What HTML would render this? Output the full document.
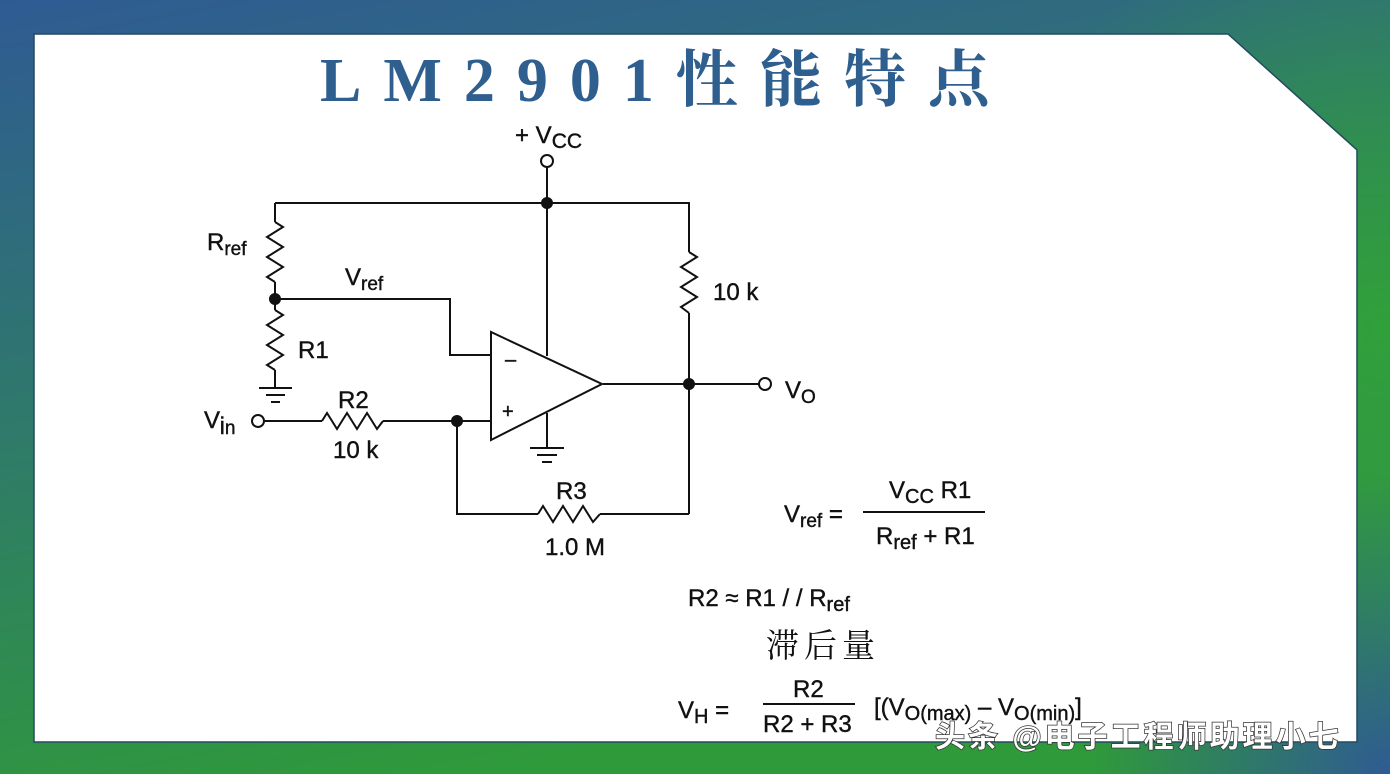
<!DOCTYPE html>
<html><head><meta charset="utf-8"><style>
html,body{margin:0;padding:0;}
body{width:1390px;height:774px;overflow:hidden;position:relative;background:#2f5f92;}
svg{position:absolute;left:0;top:0;}
</style></head><body>
<svg width="1390" height="774" viewBox="0 0 1390 774" xmlns="http://www.w3.org/2000/svg">
<defs>
<linearGradient id="g1" x1="0" y1="0" x2="0.35" y2="1">
<stop offset="0" stop-color="#2f5b93"/><stop offset="0.5" stop-color="#2f7a6a"/><stop offset="1" stop-color="#2f9a3a"/>
</linearGradient>
<radialGradient id="g2" cx="1380" cy="330" r="420" gradientUnits="userSpaceOnUse">
<stop offset="0" stop-color="#30a03a" stop-opacity="1"/><stop offset="1" stop-color="#30a03a" stop-opacity="0"/>
</radialGradient>
<radialGradient id="g3" cx="1390" cy="774" r="300" gradientUnits="userSpaceOnUse">
<stop offset="0" stop-color="#2f5b93"/><stop offset="1" stop-color="#2f5b93" stop-opacity="0"/>
</radialGradient>
</defs>
<rect width="1390" height="774" fill="url(#g1)"/>
<rect width="1390" height="774" fill="url(#g2)"/>
<rect width="1390" height="774" fill="url(#g3)"/>
<polygon points="34,34 1228,34 1357,150 1357,742 34,742" fill="#fff" stroke="#244a60" stroke-width="1.5"/>
<text x="320" y="101" font-family="Liberation Serif,'Noto Serif CJK SC',serif" font-size="62" font-weight="bold" fill="#2f5f8f" letter-spacing="22">LM2901性能特点</text>
<g stroke="#111" stroke-width="2" fill="none">
<circle cx="547" cy="161" r="6"/>
<line x1="547" y1="167" x2="547" y2="356"/>
<polyline points="275,203 689,203 689,252"/>
<polyline points="689,252 697,257 681,267 697,277 681,287 697,297 681,307 689,313"/>
<line x1="689" y1="313" x2="689" y2="514"/>
<line x1="603" y1="384" x2="759" y2="384"/>
<circle cx="765" cy="384" r="6"/>
<line x1="275" y1="203" x2="275" y2="222"/>
<polyline points="275,222 283,227 267,237 283,247 267,257 283,267 267,277 275,282"/>
<line x1="275" y1="282" x2="275" y2="310"/>
<polyline points="275,310 283,315 267,325 283,335 267,345 283,355 267,365 275,370"/>
<line x1="275" y1="370" x2="275" y2="387"/>
<line x1="259" y1="388" x2="292" y2="388"/><line x1="266" y1="395" x2="285" y2="395"/><line x1="271" y1="402" x2="280" y2="402"/>
<polyline points="275,299 450,299 450,355 491,355"/>
<polygon points="491,332 491,440 602,384"/>
<circle cx="258" cy="421" r="6"/>
<line x1="264" y1="421" x2="322" y2="421"/>
<polyline points="322,421 327,413 337,429 347,413 357,429 367,413 377,429 383,421"/>
<line x1="383" y1="421" x2="491" y2="421"/>
<polyline points="457,421 457,514 538,514"/>
<polyline points="538,514 543,506 553,522 563,506 573,522 583,506 593,522 600,514"/>
<line x1="600" y1="514" x2="689" y2="514"/>
<line x1="547" y1="413" x2="547" y2="447"/>
<line x1="530" y1="448" x2="564" y2="448"/><line x1="537" y1="455" x2="557" y2="455"/><line x1="542" y1="462" x2="552" y2="462"/>
<line x1="863" y1="512" x2="985" y2="512"/>
<line x1="763" y1="704" x2="855" y2="704"/>
</g>
<g fill="#111">
<circle cx="547" cy="203" r="6"/><circle cx="275" cy="299" r="6"/><circle cx="689" cy="384" r="6"/><circle cx="457" cy="421" r="6"/>
</g>
<g font-family="Liberation Sans,Arial,sans-serif" fill="#111" font-size="24" stroke="#111" stroke-width="0.4">
<text x="515" y="143">+ V<tspan font-size="21" dy="5">CC</tspan></text>
<text x="207" y="250">R<tspan font-size="19" dy="5">ref</tspan></text>
<text x="345" y="285">V<tspan font-size="19" dy="5">ref</tspan></text>
<text x="298" y="358">R1</text>
<text x="713" y="300">10 k</text>
<text x="505" y="366" font-size="20">–</text>
<text x="502" y="418" font-size="20">+</text>
<text x="785" y="398">V<tspan font-size="19" dy="5">O</tspan></text>
<text x="204" y="428">V<tspan dy="6">i</tspan><tspan font-size="19">n</tspan></text>
<text x="338" y="408">R2</text>
<text x="333" y="458">10 k</text>
<text x="556" y="499">R3</text>
<text x="545" y="555">1.0 M</text>
<text x="784" y="522">V<tspan font-size="19" dy="5">ref</tspan><tspan dy="-5"> =</tspan></text>
<text x="889" y="498">V<tspan font-size="20" dy="5">CC</tspan><tspan dy="-5"> R1</tspan></text>
<text x="876" y="544">R<tspan font-size="20" dy="5">ref</tspan><tspan dy="-5"> + R1</tspan></text>
<text x="688" y="606">R2 ≈ R1 / / R<tspan font-size="20" dy="5">ref</tspan></text>
<text x="678" y="718">V<tspan font-size="20" dy="5">H</tspan><tspan dy="-5"> =</tspan></text>
<text x="793" y="697">R2</text>
<text x="763" y="732">R2 + R3</text>
<text x="874" y="715">[(V<tspan font-size="20" dy="5">O(max)</tspan><tspan dy="-5"> – V</tspan><tspan font-size="20" dy="5">O(min)</tspan><tspan dy="-5">]</tspan></text>
</g>
<text x="766" y="657" font-family="Liberation Serif,'Noto Serif CJK SC',serif" font-size="33" fill="#111" letter-spacing="5">滞后量</text>
<text x="935" y="747" font-family="Liberation Sans,'Noto Sans CJK SC',sans-serif" font-size="30" font-weight="bold" letter-spacing="3" fill="#fff" stroke="#333" stroke-width="1.5" paint-order="stroke">头条 @电子工程师助理小七</text>
</svg>
</body></html>
